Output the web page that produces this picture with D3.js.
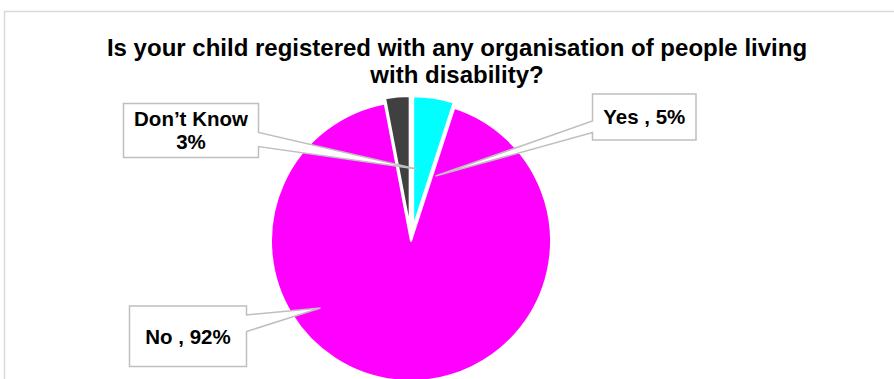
<!DOCTYPE html>
<html>
<head>
<meta charset="utf-8">
<script src="https://cdn.jsdelivr.net/npm/d3@7"></script>
<style>
  html, body { margin: 0; padding: 0; background: #ffffff; }
  svg { display: block; }
  text { font-family: Arial, "Liberation Sans", Helvetica, sans-serif; font-weight: bold; fill: #000; }
</style>
</head>
<body>
<svg id="chart" width="894" height="379"></svg>
<script>
// Survey answers, in the order the slices run clockwise from 12 o'clock
const categories = ["Yes", "No", "Don\u2019t Know"];
const percentValues = [5, 92, 3];
const sliceColors = ["#00FFFF", "#FF00FF", "#404040"];
const explodedSlices = [true, false, true];
const titleLines = [
  "Is your child registered with any organisation of people living",
  "with disability?"
];

// Callout boxes: box rectangle, the edge the pointer leaves from,
// the span on that edge, and the pointer tip relative to the pie centre
const calloutLayout = [
  { x0: 592.5, y0: 94,  x1: 696,   y1: 140,   side: "left",  p0: 121,   p1: 132.5, tip: [24.5, -65],  twoLines: false },
  { x0: 129.5, y0: 306, x1: 246.5, y1: 366.5, side: "right", p0: 315,   p1: 331.5, tip: [-90.5, 67],  twoLines: false },
  { x0: 123.5, y0: 103.5, x1: 258.5, y1: 157.5, side: "right", p0: 132.5, p1: 146.5, tip: [5.7, -72], twoLines: true }
];

const W = 894, H = 379;
const cx = 411, cy = 241, radius = 140;
// pulled-out slices are moved along their bisector and drawn a little smaller
const explodeBy = 14, explodedRadius = 131;

const svg = d3.select("#chart");

// Chart area frame (runs off the right and bottom edges)
svg.append("rect")
  .attr("x", 4.5).attr("y", 11.5)
  .attr("width", W + 20).attr("height", H + 20)
  .attr("fill", "none")
  .attr("stroke", "#d9d9d9")
  .attr("stroke-width", 1.5);

// Title
svg.append("g").selectAll("text")
  .data(titleLines)
  .join("text")
  .attr("x", 457)
  .attr("y", (d, i) => 56 + i * 26.5)
  .attr("text-anchor", "middle")
  .attr("font-size", 24)
  .text(d => d);

// Pie
const data = categories.map((c, i) => ({ category: c, value: percentValues[i], color: sliceColors[i], exploded: explodedSlices[i], index: i }));
const pie = d3.pie().value(d => d.value).sort(null);
const arcs = pie(data);
const arc = d3.arc().innerRadius(0)
  .outerRadius(d => d.data.exploded ? explodedRadius : radius);

const pieG = svg.append("g").attr("transform", `translate(${cx},${cy})`);
pieG.selectAll("path")
  .data(arcs)
  .join("path")
  .attr("d", arc)
  .attr("fill", d => d.data.color)
  .attr("stroke", "#ffffff")
  .attr("stroke-width", 2)
  .attr("stroke-linejoin", "round")
  .attr("transform", d => {
    if (!d.data.exploded) return null;
    const mid = (d.startAngle + d.endAngle) / 2;
    return `translate(${Math.sin(mid) * explodeBy},${-Math.cos(mid) * explodeBy})`;
  });

// Data callouts
const fmt = (d) => calloutLayout[d.index].twoLines
  ? [d.category, `${d.value}%`]
  : [`${d.category} , ${d.value}%`];

function calloutPath(L) {
  const tx = cx + L.tip[0], ty = cy + L.tip[1];
  if (L.side === "left") {
    return `M${L.x0},${L.y0}H${L.x1}V${L.y1}H${L.x0}V${L.p1}L${tx},${ty}L${L.x0},${L.p0}Z`;
  }
  return `M${L.x0},${L.y0}H${L.x1}V${L.p0}L${tx},${ty}L${L.x1},${L.p1}V${L.y1}H${L.x0}Z`;
}

const callouts = svg.append("g").selectAll("g")
  .data(data)
  .join("g");

callouts.append("path")
  .attr("d", d => calloutPath(calloutLayout[d.index]))
  .attr("fill", "#ffffff")
  .attr("stroke", "#bfbfbf")
  .attr("stroke-width", 1.5)
  .attr("stroke-linejoin", "miter");

callouts.each(function(d) {
  const L = calloutLayout[d.index];
  const lines = fmt(d);
  const midX = (L.x0 + L.x1) / 2;
  const midY = (L.y0 + L.y1) / 2;
  const lh = 23;
  const first = midY + 7.3 - (lines.length - 1) * lh / 2;
  d3.select(this).selectAll("text")
    .data(lines)
    .join("text")
    .attr("x", midX)
    .attr("y", (t, i) => first + i * lh)
    .attr("text-anchor", "middle")
    .attr("font-size", 20.5)
    .text(t => t);
});
</script>
</body>
</html>
